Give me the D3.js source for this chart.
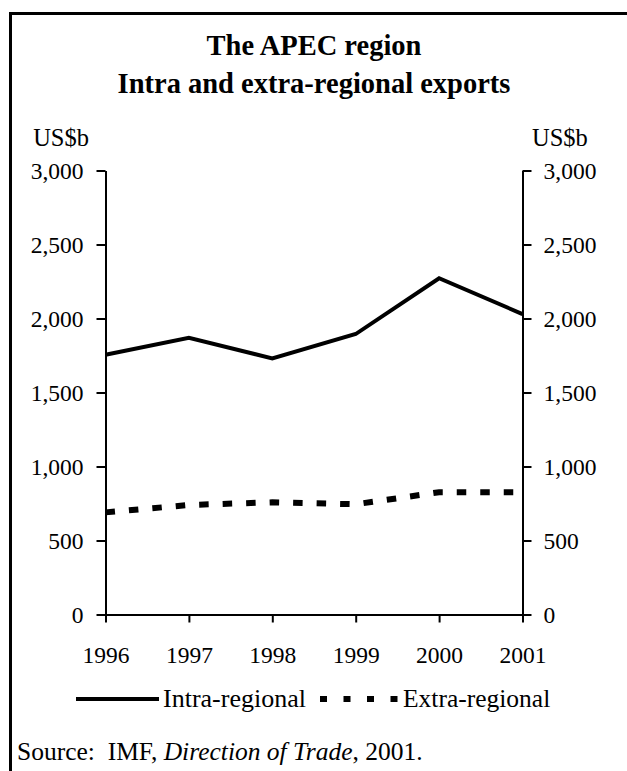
<!DOCTYPE html>
<html><head><meta charset="utf-8">
<script src="https://cdn.jsdelivr.net/npm/d3@7"></script>
<style>body{margin:0;background:#fff;} svg{display:block;} text{font-family:"Liberation Serif","Times New Roman",serif;fill:#000;}</style>
</head><body>
<script>
const years = [1996, 1997, 1998, 1999, 2000, 2001];
const intraRegional = [1755, 1870, 1730, 1895, 2272, 2030];
const extraRegional = [690, 740, 758, 745, 826, 826];
const yTicks = [0, 500, 1000, 1500, 2000, 2500, 3000];
const titleLines = ["The APEC region", "Intra and extra-regional exports"];
const seriesNames = ["Intra-regional", "Extra-regional"];
const unitLabel = "US$b";

const W = 627, H = 771;
const svg = d3.select("body").append("svg").attr("width", W).attr("height", H);

// frame (open to the right and bottom)
svg.append("path").attr("d", `M10.5,${H} L10.5,13.5 L${W},13.5`)
  .attr("fill", "none").attr("stroke", "#000").attr("stroke-width", 3);

// title
svg.selectAll("text.title").data(titleLines).enter().append("text")
  .attr("class", "title").attr("x", 314).attr("y", (d, i) => 55 + i * 37.5)
  .attr("text-anchor", "middle").style("font-weight", "bold").style("font-size", "28.5px")
  .text(d => d);

const x = d3.scaleLinear().domain([1996, 2001]).range([105.5, 522.5]);
const y = d3.scaleLinear().domain([0, 3000]).range([614.5, 170.5]);
const fmt = d3.format(",");

const tickFont = "23.5px";
const left = svg.append("g").attr("transform", "translate(105.5,0)")
  .call(d3.axisLeft(y).tickValues(yTicks).tickFormat(fmt).tickSize(9).tickSizeOuter(0).tickPadding(13));
const right = svg.append("g").attr("transform", "translate(522.5,0)")
  .call(d3.axisRight(y).tickValues(yTicks).tickFormat(fmt).tickSize(9).tickSizeOuter(0).tickPadding(12));
const bottom = svg.append("g").attr("transform", "translate(0,614.5)")
  .call(d3.axisBottom(x).tickValues(years).tickFormat(d3.format("d")).tickSize(8).tickSizeOuter(0).tickPadding(24));

[left, right, bottom].forEach(g => {
  g.selectAll("path.domain").attr("stroke", "#000").attr("stroke-width", 2);
  g.selectAll(".tick line").attr("stroke", "#000").attr("stroke-width", 2);
  g.selectAll(".tick text").style("font-size", tickFont).style("font-family", '"Liberation Serif", serif').attr("fill", "#000");
});

// unit labels
svg.append("text").attr("x", 89).attr("y", 146).attr("text-anchor", "end").style("font-size", "24.5px").text(unitLabel);
svg.append("text").attr("x", 532).attr("y", 146).attr("text-anchor", "start").style("font-size", "24.5px").text(unitLabel);

const line = d3.line().x((d, i) => x(years[i])).y(d => y(d));
svg.append("path").datum(intraRegional).attr("d", line)
  .attr("fill", "none").attr("stroke", "#000").attr("stroke-width", 4).attr("stroke-linejoin", "miter");
svg.append("path").datum(extraRegional).attr("d", line)
  .attr("fill", "none").attr("stroke", "#000").attr("stroke-width", 6).attr("stroke-dasharray", "9.5,14");

// legend
const lg = svg.append("g");
lg.append("line").attr("x1", 76).attr("x2", 159).attr("y1", 699).attr("y2", 699)
  .attr("stroke", "#000").attr("stroke-width", 4);
lg.append("text").attr("x", 163).attr("y", 707).style("font-size", "26px").text(seriesNames[0]);
lg.append("line").attr("x1", 320).attr("x2", 399).attr("y1", 699).attr("y2", 699)
  .attr("stroke", "#000").attr("stroke-width", 6).attr("stroke-dasharray", "7,16.5");
lg.append("text").attr("x", 403).attr("y", 707).style("font-size", "25.5px").text(seriesNames[1]);

// source
const src = svg.append("text").attr("x", 17).attr("y", 760).style("font-size", "25.5px");
src.append("tspan").text("Source:\u00a0 IMF, ");
src.append("tspan").style("font-style", "italic").text("Direction of Trade");
src.append("tspan").text(", 2001.");
</script>
</body></html>
